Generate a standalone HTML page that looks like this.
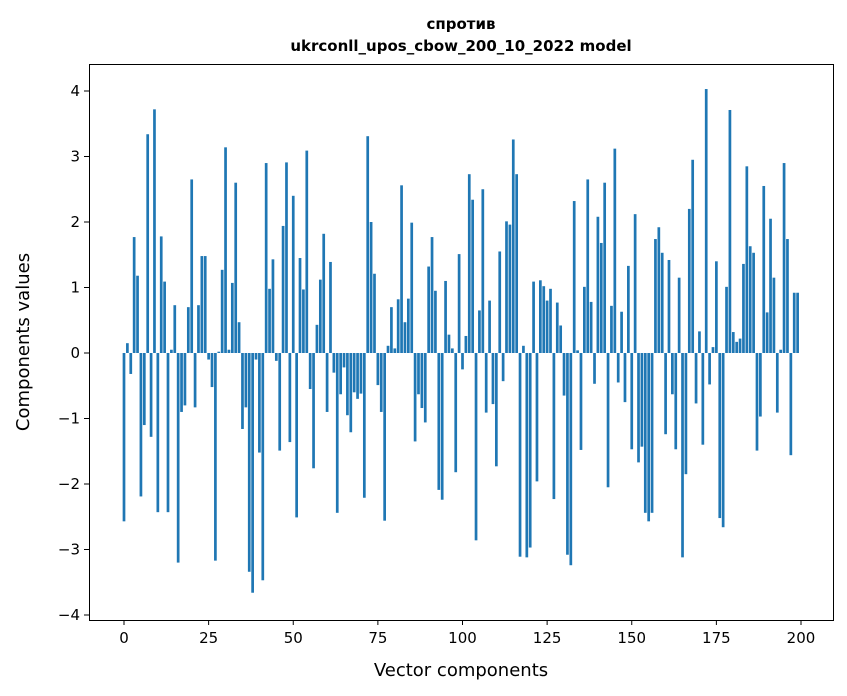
<!DOCTYPE html>
<html><head><meta charset="utf-8"><style>
html,body{margin:0;padding:0;background:#fff;}
svg{display:block;font-family:"DejaVu Sans","Liberation Sans",sans-serif;}
</style></head><body>
<svg id="chart" width="847" height="696">
<text x="461" y="29" text-anchor="middle" font-size="15" font-weight="bold">спротив</text>
<text x="461" y="51" text-anchor="middle" font-size="15" font-weight="bold">ukrconll_upos_cbow_200_10_2022 model</text>
<g id="bars"></g>
<g id="xticks"></g>
<g id="yticks"></g>
<rect x="89.5" y="64.5" width="744" height="556" fill="none" stroke="#000" stroke-width="1"/>
<text x="461" y="676" text-anchor="middle" font-size="18">Vector components</text>
<text transform="translate(29,342) rotate(-90)" text-anchor="middle" font-size="18">Components values</text>
</svg>
<script>
const values = [-2.57,0.15,-0.32,1.77,1.18,-2.19,-1.1,3.34,-1.28,3.72,-2.43,1.78,1.09,-2.43,0.05,0.73,-3.2,-0.9,-0.8,0.7,
2.65,-0.83,0.73,1.48,1.48,-0.1,-0.52,-3.17,0.02,1.27,3.14,0.05,1.07,2.6,0.47,-1.16,-0.83,-3.34,-3.66,-0.1,
-1.52,-3.47,2.9,0.98,1.43,-0.12,-1.49,1.94,2.91,-1.36,2.4,-2.51,1.45,0.97,3.09,-0.55,-1.76,0.43,1.12,1.82,
-0.9,1.39,-0.3,-2.44,-0.63,-0.22,-0.95,-1.21,-0.6,-0.7,-0.62,-2.21,3.31,2.0,1.21,-0.49,-0.9,-2.56,0.11,0.7,
0.07,0.82,2.56,0.47,0.83,1.99,-1.35,-0.63,-0.84,-1.06,1.32,1.77,0.95,-2.09,-2.24,1.1,0.28,0.07,-1.82,1.51,
-0.25,0.26,2.73,2.34,-2.86,0.65,2.5,-0.91,0.8,-0.78,-1.73,1.55,-0.43,2.01,1.96,3.26,2.73,-3.11,0.11,-3.12,
-2.97,1.09,-1.96,1.11,1.02,0.8,0.98,-2.23,0.77,0.42,-0.65,-3.08,-3.24,2.32,0.04,-1.48,1.01,2.65,0.78,-0.47,
2.08,1.68,2.6,-2.05,0.72,3.12,-0.45,0.63,-0.75,1.33,-1.47,2.12,-1.67,-1.43,-2.44,-2.57,-2.44,1.74,1.92,1.53,
-1.24,1.42,-0.63,-1.47,1.15,-3.12,-1.85,2.2,2.95,-0.77,0.33,-1.4,4.03,-0.48,0.09,1.4,-2.52,-2.66,1.01,3.71,
0.32,0.17,0.22,1.36,2.85,1.63,1.53,-1.49,-0.97,2.55,0.62,2.05,1.15,-0.91,0.05,2.9,1.74,-1.56,0.92,0.92];
const xTickLabels = [0,25,50,75,100,125,150,175,200];
const yTickLabels = [-4,-3,-2,-1,0,1,2,3,4];
const NS="http://www.w3.org/2000/svg";
function xs(v){return 124+v*(801-124)/200;}
function ys(v){return 353-v*65.5;}
const bars=document.getElementById('bars');
values.forEach((v,i)=>{
  const r=document.createElementNS(NS,'rect');
  const w=0.8*(801-124)/200;
  r.setAttribute('x',xs(i)-w/2);
  r.setAttribute('width',w);
  r.setAttribute('y',Math.min(ys(v),ys(0)));
  r.setAttribute('height',Math.abs(ys(v)-ys(0)));
  r.setAttribute('fill','#1f77b4');
  
  
  bars.appendChild(r);
});
const xg=document.getElementById('xticks');
xTickLabels.forEach(t=>{
  const l=document.createElementNS(NS,'line');
  l.setAttribute('x1',xs(t));l.setAttribute('x2',xs(t));
  l.setAttribute('y1',620);l.setAttribute('y2',625);
  l.setAttribute('stroke','#000');
  
  
  xg.appendChild(l);
  const tx=document.createElementNS(NS,'text');
  tx.setAttribute('x',xs(t));tx.setAttribute('y',643);
  tx.setAttribute('text-anchor','middle');tx.setAttribute('font-size','15');
  tx.textContent=t;
  
  
  xg.appendChild(tx);
});
const yg=document.getElementById('yticks');
yTickLabels.forEach(t=>{
  const l=document.createElementNS(NS,'line');
  l.setAttribute('x1',84);l.setAttribute('x2',89);
  l.setAttribute('y1',ys(t));l.setAttribute('y2',ys(t));
  l.setAttribute('stroke','#000');
  
  
  yg.appendChild(l);
  const tx=document.createElementNS(NS,'text');
  tx.setAttribute('x',80);tx.setAttribute('y',ys(t)+5);
  tx.setAttribute('text-anchor','end');tx.setAttribute('font-size','15');
  tx.textContent=t<0?'\u2212'+Math.abs(t):t;
  
  
  yg.appendChild(tx);
});
</script>
</body></html>
